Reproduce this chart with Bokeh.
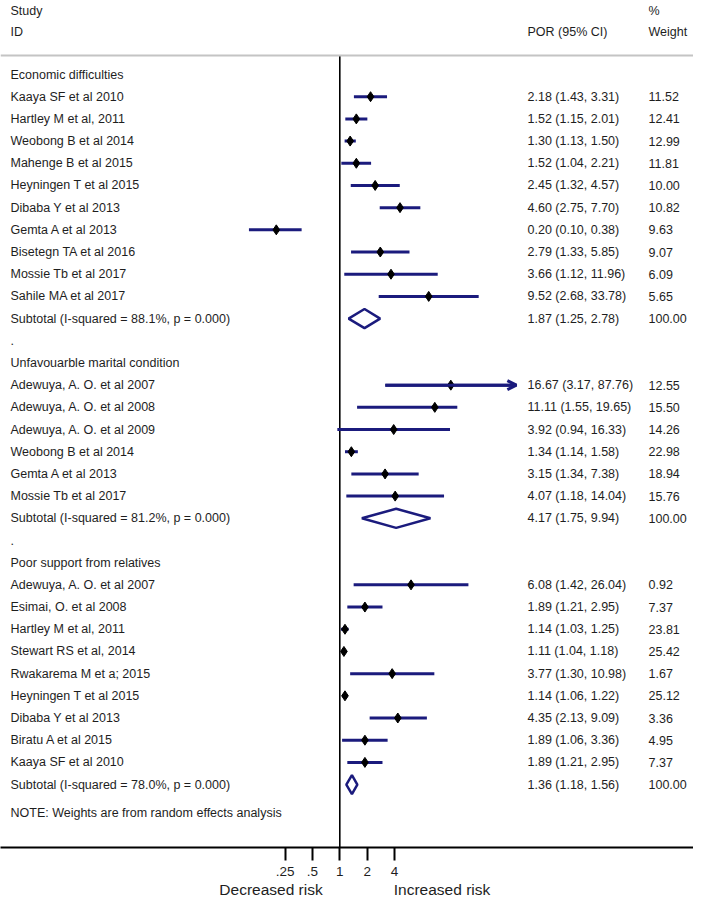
import numpy as np
from bokeh.plotting import figure
from bokeh.models import (Range1d, LinearScale, ColumnDataSource, FixedTicker, LinearAxis,
                          CustomJSTickFormatter, Span, Arrow, OpenHead)
from bokeh.core.properties import value
from bokeh.embed import file_html
from bokeh.resources import INLINE

# ---------------- data ----------------
group_names = ["Economic difficulties", "Unfavouarble marital condition", "Poor support from relatives"]

econ_studies = ["Kaaya SF et al 2010", "Hartley M et al, 2011", "Weobong B et al 2014",
                "Mahenge B et al 2015", "Heyningen T et al 2015", "Dibaba Y et al 2013",
                "Gemta A et al 2013", "Bisetegn TA et al 2016", "Mossie Tb et al 2017",
                "Sahile MA et al 2017"]
econ_por = [2.18, 1.52, 1.30, 1.52, 2.45, 4.60, 0.20, 2.79, 3.66, 9.52]
econ_lo = [1.43, 1.15, 1.13, 1.04, 1.32, 2.75, 0.10, 1.33, 1.12, 2.68]
econ_hi = [3.31, 2.01, 1.50, 2.21, 4.57, 7.70, 0.38, 5.85, 11.96, 33.78]
econ_w = [11.52, 12.41, 12.99, 11.81, 10.00, 10.82, 9.63, 9.07, 6.09, 5.65]

marital_studies = ["Adewuya, A. O. et al 2007", "Adewuya, A. O. et al 2008",
                   "Adewuya, A. O. et al 2009", "Weobong B et al 2014",
                   "Gemta A et al 2013", "Mossie Tb et al 2017"]
marital_por = [16.67, 11.11, 3.92, 1.34, 3.15, 4.07]
marital_lo = [3.17, 1.55, 0.94, 1.14, 1.34, 1.18]
marital_hi = [87.76, 19.65, 16.33, 1.58, 7.38, 14.04]
marital_w = [12.55, 15.50, 14.26, 22.98, 18.94, 15.76]

support_studies = ["Adewuya, A. O. et al 2007", "Esimai, O. et al 2008", "Hartley M et al, 2011",
                   "Stewart RS et al, 2014", "Rwakarema M et a; 2015", "Heyningen T et al 2015",
                   "Dibaba Y et al 2013", "Biratu A et al 2015", "Kaaya SF et al 2010"]
support_por = [6.08, 1.89, 1.14, 1.11, 3.77, 1.14, 4.35, 1.89, 1.89]
support_lo = [1.42, 1.21, 1.03, 1.04, 1.30, 1.06, 2.13, 1.06, 1.21]
support_hi = [26.04, 2.95, 1.25, 1.18, 10.98, 1.22, 9.09, 3.36, 2.95]
support_w = [0.92, 7.37, 23.81, 25.42, 1.67, 25.12, 3.36, 4.95, 7.37]

subtotal_por = [1.87, 4.17, 1.36]
subtotal_lo = [1.25, 1.75, 1.18]
subtotal_hi = [2.78, 9.94, 1.56]
subtotal_i2 = [88.1, 81.2, 78.0]
subtotal_p = [0.000, 0.000, 0.000]

tick_values = [0.25, 0.5, 1, 2, 4]
risk_labels = ["Decreased risk", "Increased risk"]
axis_limit = 64  # CIs beyond this get an arrow head

# ---------------- layout ----------------
W, H = 693, 900
FONT = "Liberation Sans"
NAVY = "#1b1b7d"
TXT = "#1e1e1e"

groups = [
    (econ_studies, econ_por, econ_lo, econ_hi, econ_w),
    (marital_studies, marital_por, marital_lo, marital_hi, marital_w),
    (support_studies, support_por, support_lo, support_hi, support_w),
]

lab_t, lab_y = [], []
por_t, por_y = [], []
wt_t, wt_y = [], []
st_y, st_est, st_lo, st_hi = [], [], [], []
dia_xs, dia_ys = [], []

r = 0
for gi, (names, est, lo, hi, w) in enumerate(groups):
    lab_t.append(group_names[gi]); lab_y.append(r); r += 1
    for n, e, l, h, ww in zip(names, est, lo, hi, w):
        lab_t.append(n); lab_y.append(r)
        por_t.append(f"{e:.2f} ({l:.2f}, {h:.2f})"); por_y.append(r)
        wt_t.append(f"{ww:.2f}"); wt_y.append(r)
        st_y.append(r); st_est.append(e); st_lo.append(l); st_hi.append(h)
        r += 1
    lab_t.append(f"Subtotal  (I-squared = {subtotal_i2[gi]:.1f}%, p = {subtotal_p[gi]:.3f})")
    lab_y.append(r)
    por_t.append(f"{subtotal_por[gi]:.2f} ({subtotal_lo[gi]:.2f}, {subtotal_hi[gi]:.2f})"); por_y.append(r)
    wt_t.append("100.00"); wt_y.append(r)
    dia_xs.append([subtotal_lo[gi], subtotal_por[gi], subtotal_hi[gi], subtotal_por[gi]])
    dia_ys.append([r, r - 0.43, r, r + 0.43])
    r += 1
    if gi < len(groups) - 1:
        lab_t.append("."); lab_y.append(r); r += 1
note_row = r - 1 + 1.3
lab_t.append("NOTE: Weights are from random effects analysis"); lab_y.append(note_row)

row_px = 22.19
row0_px = 74.0
frame_h = 847
px_per_log2 = 27.35
one_px = 339.3

y_top = -row0_px / row_px
y_bot = (frame_h - row0_px) / row_px
x_lo = 2 ** (-one_px / px_per_log2)
x_hi = 2 ** ((W - one_px) / px_per_log2)

p = figure(width=W, height=H, output_backend="svg", toolbar_location=None,
           x_axis_type="log", x_range=Range1d(x_lo, x_hi), y_range=Range1d(y_bot, y_top),
           y_axis_location=None, min_border_left=0, min_border_right=0,
           min_border_top=0, min_border_bottom=H - frame_h)
p.outline_line_color = None
p.xgrid.visible = False
p.ygrid.visible = False
p.background_fill_color = "white"
p.border_fill_color = "white"

p.extra_x_ranges = {"px": Range1d(0, W)}
p.extra_x_scales = {"px": LinearScale()}

# header rule and null line
gray_row = (55 - row0_px) / row_px
p.add_layout(Span(location=gray_row, dimension="width", line_color="#c4c4c4", line_width=2))
p.segment(x0=[1], y0=[gray_row], x1=[1], y1=[y_bot], line_color="black", line_width=1.6)

# confidence intervals
src = ColumnDataSource(dict(y=st_y, est=st_est, lo=st_lo, hi=st_hi))
p.segment(x0="lo", y0="y", x1="hi", y1="y", source=src, line_color=NAVY, line_width=3)
for yy, l, h in zip(st_y, st_lo, st_hi):
    if h > axis_limit:
        p.add_layout(Arrow(end=OpenHead(size=9, line_color=NAVY, line_width=3),
                           x_start=l, y_start=yy, x_end=h, y_end=yy,
                           line_color=NAVY, line_width=3))
p.scatter(x="est", y="y", source=src, marker="diamond", size=10, color="black")

# subtotal diamonds
p.patches(xs=dia_xs, ys=dia_ys, fill_color="white", line_color=NAVY, line_width=2.5)

# table text
tstyle = dict(text_font=value(FONT), text_font_size="12.5px", text_color=TXT,
              text_baseline="middle", x_range_name="px")
p.text(x=[10] * len(lab_t), y=lab_y, text=lab_t, text_align="left", **tstyle)
p.text(x=[527] * len(por_t), y=por_y, text=por_t, text_align="left", **tstyle)
p.text(x=[648] * len(wt_t), y=wt_y, text=wt_t, text_align="left", **tstyle)

hdr_top = (10 - row0_px) / row_px
hdr_bot = (31 - row0_px) / row_px
p.text(x=[10, 10, 527, 648, 648], y=[hdr_top, hdr_bot, hdr_bot, hdr_top, hdr_bot],
       text=["Study", "ID", "POR (95% CI)", "%", "Weight"], text_align="left", **tstyle)

# x axis
ax = p.xaxis[0]
ax.ticker = FixedTicker(ticks=tick_values)
ax.formatter = CustomJSTickFormatter(code="return tick < 1 ? String(tick).replace(/^0/, '') : String(tick);")
ax.axis_line_color = "black"
ax.axis_line_width = 2
ax.major_tick_line_color = "black"
ax.major_tick_line_width = 2
ax.major_tick_out = 13
ax.major_tick_in = 0
ax.minor_tick_line_color = None
ax.major_label_text_font = FONT
ax.major_label_text_font_size = "13.5px"
ax.major_label_text_color = TXT
ax.major_label_standoff = 6

# second axis carrying the two direction captions
risk_pos = [270.5, 441.5]
ax2 = LinearAxis(x_range_name="px", ticker=FixedTicker(ticks=risk_pos),
                 major_label_overrides={risk_pos[0]: risk_labels[0], risk_pos[1]: risk_labels[1]})
ax2.axis_line_color = None
ax2.major_tick_line_color = None
ax2.minor_tick_line_color = None
ax2.major_tick_out = 0
ax2.major_tick_in = 0
ax2.major_label_standoff = 2
ax2.major_label_text_font = FONT
ax2.major_label_text_font_size = "15.5px"
ax2.major_label_text_color = TXT
p.add_layout(ax2, "below")

open("out.html", "w").write(file_html(p, INLINE))
